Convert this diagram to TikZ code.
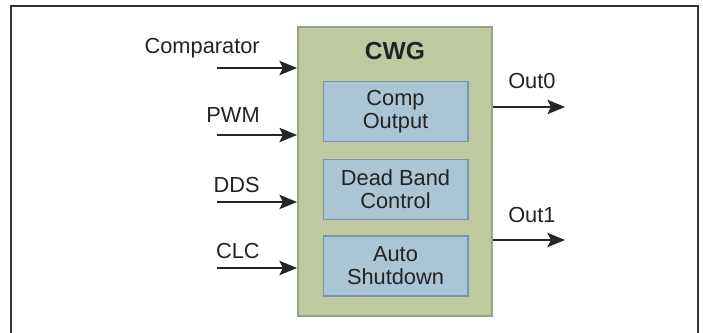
\documentclass[tikz,border=0pt]{standalone}
\usepackage{fontspec}
\setmainfont{Liberation Sans}
\usetikzlibrary{arrows.meta}
\definecolor{cwggreen}{RGB}{190,201,161}
\definecolor{cwgedge}{RGB}{150,166,124}
\definecolor{blkblue}{RGB}{170,197,213}
\definecolor{blkedge}{RGB}{122,150,168}
\definecolor{txtgray}{RGB}{35,35,35}

\begin{document}
\begin{tikzpicture}[x=0.025cm, y=-0.025cm,
  lbl/.style={font=\fontsize{15.5}{16}\selectfont, text=txtgray, inner sep=0pt},
  blk/.style={rectangle, fill=blkblue, draw=blkedge, line width=1.4pt, minimum width=3.6cm, minimum height=1.5cm, inner sep=0pt, align=center, font=\fontsize{15.5}{16.5}\selectfont, text=txtgray},
  sig/.style={-{Stealth[length=4.4mm,width=3.6mm,inset=0.9mm]}, line width=0.9pt, draw=black!85}]
\useasboundingbox (0,0) rectangle (703,333);

% frame
\draw[line width=1.1pt, draw=black!80] (11,333) -- (11,6) -- (698,6) -- (698,333);

% CWG block
\node[rectangle, fill=cwggreen, draw=cwgedge, line width=1.4pt, minimum width=4.85cm, minimum height=7.225cm] (cwg) at (395,171.5) {};
\node[lbl, font=\fontsize{17.5}{18}\selectfont\bfseries] (title) at (395,51) {CWG};

\node[blk] (b1) at (395.5,111.5) {Comp\\Output};
\node[blk] (b2) at (395.5,189.5) {Dead Band\\Control};
\node[blk] (b3) at (395.5,266) {Auto\\Shutdown};

% inputs
\coordinate (i1) at (217,68);
\coordinate (i2) at (217,135);
\coordinate (i3) at (217,202);
\coordinate (i4) at (217,268);

\node[lbl, anchor=base east] (l1) at (260,53.5) {Comparator};
\node[lbl, anchor=base east] (l2) at (260,122.5) {PWM};
\node[lbl, anchor=base east] (l3) at (260,192.5) {DDS};
\node[lbl, anchor=base east] (l4) at (260,258.5) {CLC};

\draw[sig] (i1) -- (i1 -| cwg.west);
\draw[sig] (i2) -- (i2 -| cwg.west);
\draw[sig] (i3) -- (i3 -| cwg.west);
\draw[sig] (i4) -- (i4 -| cwg.west);

% outputs
\coordinate (o1) at (565,107);
\coordinate (o2) at (565,240);

\node[lbl, anchor=base west] (ol1) at (508,88.5) {Out0};
\node[lbl, anchor=base west] (ol2) at (508,222.5) {Out1};

\draw[sig] (o1 -| cwg.east) -- (o1);
\draw[sig] (o2 -| cwg.east) -- (o2);

\end{tikzpicture}
\end{document}
